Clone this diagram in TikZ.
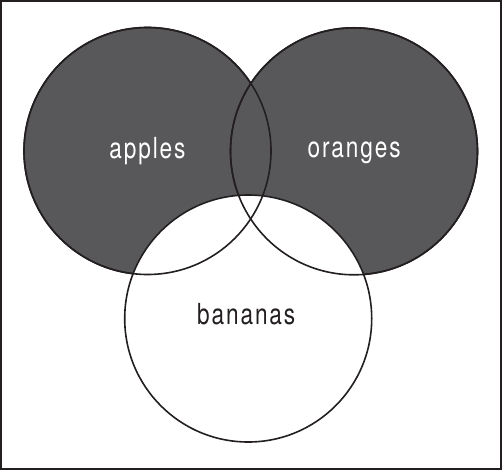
\documentclass[tikz,border=0pt]{standalone}
\usepackage{fontspec}
\setmainfont{TeX Gyre Heros}
\newfontfamily\condfont[FakeStretch=0.78,LetterSpace=6.5]{TeX Gyre Heros}
\definecolor{darkfill}{HTML}{58585A}
\definecolor{ink}{HTML}{231F20}
\begin{document}
\begin{tikzpicture}[x=1pt,y=-1pt,
  setfill/.style={circle,inner sep=0pt,minimum size=247pt,draw=ink,line width=1.6pt},
  outline/.style={draw=ink,line width=1.6pt},
  lbl/.style={font=\condfont\fontsize{29}{32}\selectfont,anchor=base,inner sep=0pt}]
\useasboundingbox (0,0) rectangle (502,470);
\node[draw=ink,line width=2.4pt,minimum width=499.6pt,minimum height=467.6pt,inner sep=0pt] (frame) at (251,235) {};
\node[setfill,fill=darkfill] (apples) at (147.5,151) {};
\node[setfill,fill=darkfill] (oranges) at (354,151.3) {};
\node[setfill,fill=white] (bananas) at (248.2,318.5) {};
\draw[outline] (apples.center) circle[radius=123.5pt];
\draw[outline] (oranges.center) circle[radius=123.5pt];
\node[lbl,text=white] (tapples) at (147.4,158.3) {apples};
\node[lbl,text=white] (toranges) at (354.2,157.7) {oranges};
\node[lbl,text=ink] (tbananas) at (246.2,324.3) {bananas};
\end{tikzpicture}
\end{document}
